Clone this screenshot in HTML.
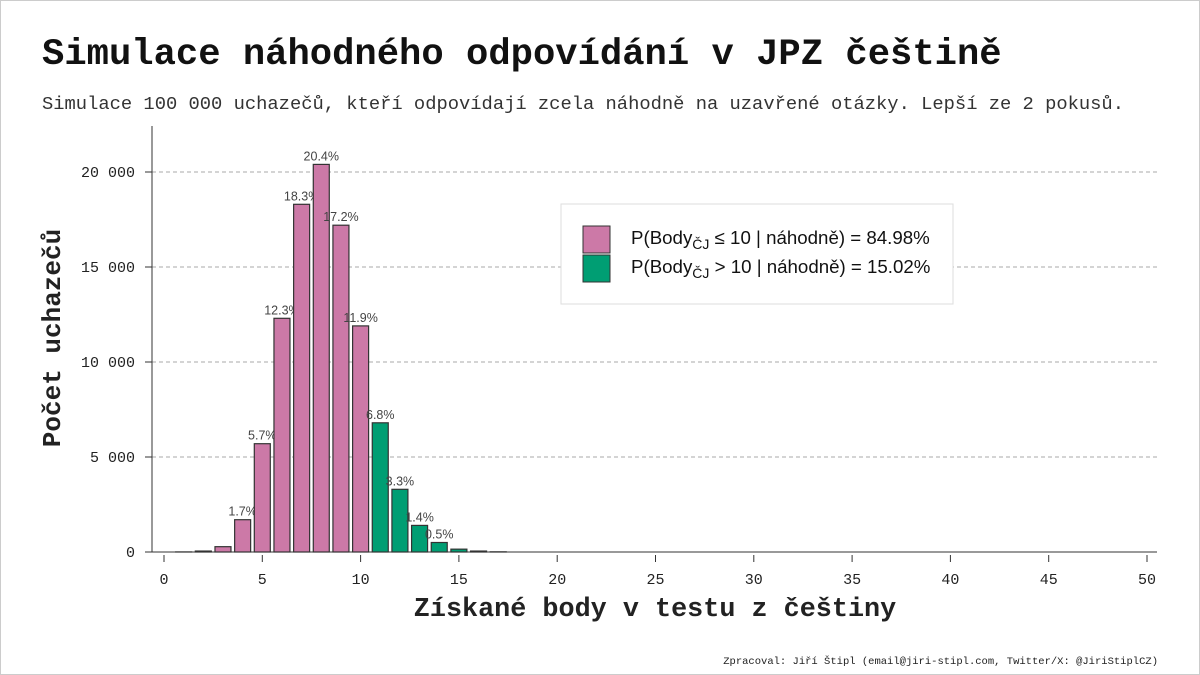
<!DOCTYPE html>
<html><head><meta charset="utf-8"><style>
body{margin:0;background:#fff}
svg{display:block}
</style></head><body>
<svg width="1200" height="675" viewBox="0 0 1200 675" xmlns="http://www.w3.org/2000/svg">
<rect x="0.5" y="0.5" width="1199" height="674" fill="#fff" stroke="#ccc"/>
<text x="42" y="64" font-family="Liberation Mono, monospace" font-weight="bold" font-size="37.2" fill="#111">Simulace náhodného odpovídání v JPZ češtině</text>
<text x="42" y="109" font-family="Liberation Mono, monospace" font-size="18.8" fill="#333">Simulace 100 000 uchazečů, kteří odpovídají zcela náhodně na uzavřené otázky. Lepší ze 2 pokusů.</text>
<g id="grid"></g>
<g id="bars"></g>
<g id="axes"></g>
<text x="60" y="338" transform="rotate(-90 60 338)" text-anchor="middle" font-family="Liberation Mono, monospace" font-weight="bold" font-size="26" fill="#222">Počet uchazečů</text>
<text x="655" y="616" text-anchor="middle" font-family="Liberation Mono, monospace" font-weight="bold" font-size="26.8" fill="#222">Získané body v testu z češtiny</text>
<g>
<rect x="561" y="204" width="392" height="100" fill="#fff" stroke="#ddd"/>
<rect x="583" y="226" width="27" height="27" fill="#CC79A7" stroke="#333"/>
<rect x="583" y="255" width="27" height="27" fill="#009E73" stroke="#333"/>
<text x="631" y="244" font-family="Liberation Sans, sans-serif" font-size="18.7" fill="#111">P(Body<tspan font-size="14" dy="5">ČJ</tspan><tspan dy="-5"> ≤ 10 | náhodně) = 84.98%</tspan></text>
<text x="631" y="273" font-family="Liberation Sans, sans-serif" font-size="18.7" fill="#111">P(Body<tspan font-size="14" dy="5">ČJ</tspan><tspan dy="-5"> &gt; 10 | náhodně) = 15.02%</tspan></text>
</g>
<text x="1158" y="664" text-anchor="end" font-family="Liberation Mono, monospace" font-size="10.5" fill="#222">Zpracoval: Jiří Štipl (email@jiri-stipl.com, Twitter/X: @JiriStiplCZ)</text>
</svg>
<script>
const categories=[1,2,3,4,5,6,7,8,9,10,11,12,13,14,15,16,17];
const counts=[5,50,280,1700,5700,12300,18300,20400,17200,11900,6800,3300,1400,500,150,50,10];
const pctLabels=["","","","1.7%","5.7%","12.3%","18.3%","20.4%","17.2%","11.9%","6.8%","3.3%","1.4%","0.5%","","",""];
const yTicks=[0,5000,10000,15000,20000];
const yTickLabels=["0","5 000","10 000","15 000","20 000"];
const xTicks=[0,5,10,15,20,25,30,35,40,45,50];
const threshold=10;
const NS="http://www.w3.org/2000/svg";
const xS=v=>164+v*(1147-164)/50;
const yS=v=>552-v*(552-172)/20000;
function mk(t,a,p){const e=document.createElementNS(NS,t);for(const k in a)e.setAttribute(k,a[k]);p.appendChild(e);return e;}
const grid=document.getElementById('grid'),bars=document.getElementById('bars'),axes=document.getElementById('axes');
yTicks.forEach((v,i)=>{
 if(v>0){const g=mk('line',{x1:152,x2:1157,y1:yS(v),y2:yS(v),stroke:'#aaa','stroke-dasharray':'4,3','stroke-width':1},grid);
 
 }
 const t=mk('line',{x1:145,x2:152,y1:yS(v),y2:yS(v),stroke:'#333'},axes);
 
 
 const l=mk('text',{x:135,y:yS(v)+5,'text-anchor':'end','font-family':'Liberation Mono, monospace','font-size':15,fill:'#222'},axes);
 l.textContent=yTickLabels[i];
 
 
});
categories.forEach((c,i)=>{
 const y=yS(counts[i]);
 const b=mk('rect',{x:xS(c)-8,y:y,width:16,height:552-y,fill:c<=threshold?'#CC79A7':'#009E73',stroke:'#333','stroke-width':1.2},bars);
 
 
 if(pctLabels[i]){const t=mk('text',{x:xS(c),y:y-4,'text-anchor':'middle','font-family':'Liberation Sans, sans-serif','font-size':12.5,fill:'#444'},bars);
 t.textContent=pctLabels[i];
 
 }
});
const sp=mk('line',{x1:152,x2:152,y1:126,y2:552,stroke:'#333'},axes);


const bx=mk('line',{x1:145,x2:1157,y1:552,y2:552,stroke:'#333'},axes);


xTicks.forEach(v=>{
 const t=mk('line',{x1:xS(v),x2:xS(v),y1:555,y2:562,stroke:'#333'},axes);
 
 
 const l=mk('text',{x:xS(v),y:584,'text-anchor':'middle','font-family':'Liberation Mono, monospace','font-size':15,fill:'#222'},axes);
 l.textContent=v;
 
 
});
</script>
</body></html>
